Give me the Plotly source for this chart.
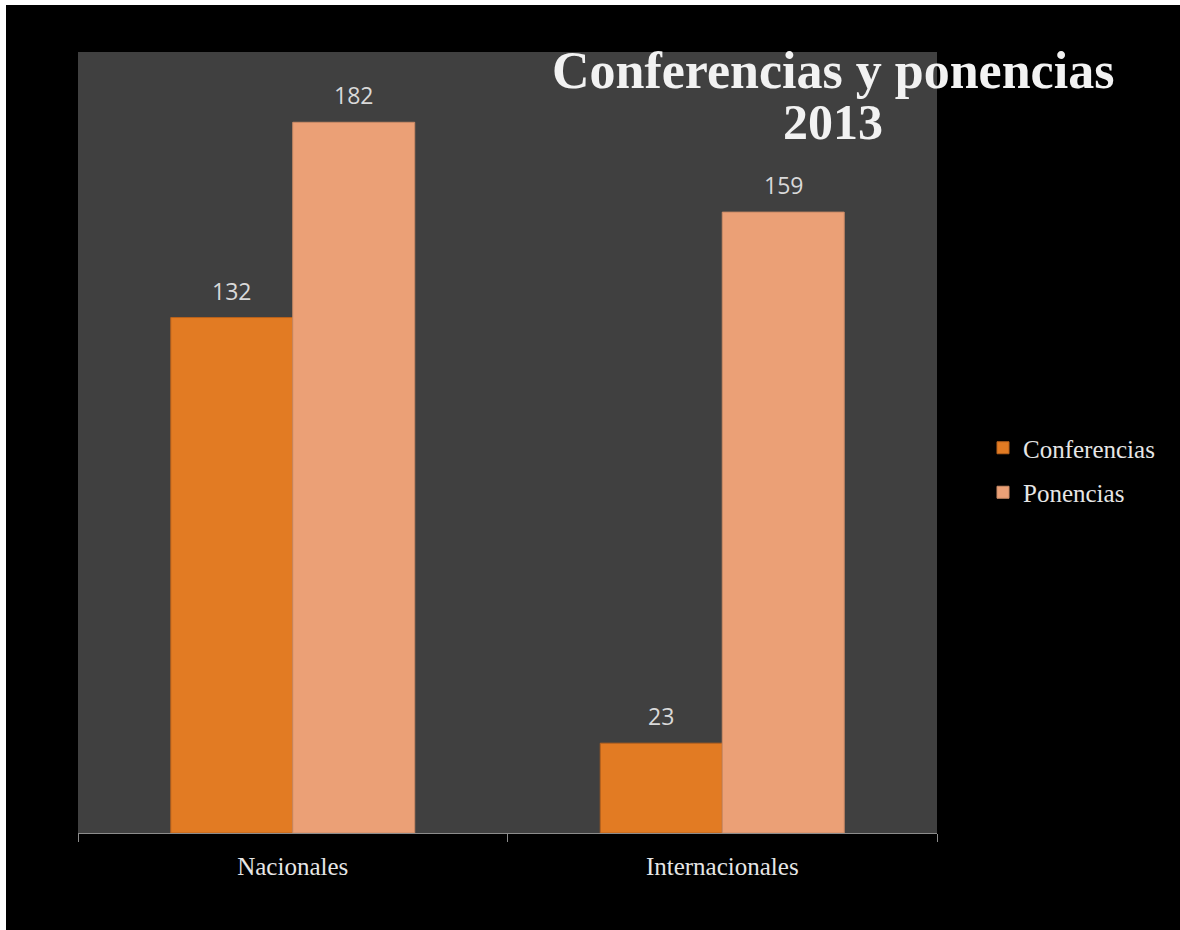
import plotly.graph_objects as go

categories = ["Nacionales", "Internacionales"]
conferencias = [132, 23]
ponencias = [182, 159]
series_names = ["Conferencias", "Ponencias"]
title_line1 = "Conferencias y ponencias"
title_line2 = "2013"

W, H = 1180, 930
ML, MT = 78, 52
PW, PH = 859, 781
MR, MB = W - ML - PW, H - MT - PH

def px_x(p):
    return (p - ML) / PW

def px_y(p):
    return (MT + PH - p) / PH

fig = go.Figure()
fig.add_trace(go.Bar(
    x=categories, y=conferencias, name=series_names[0], legendgroup="a",
    marker=dict(color="#E27B23", line=dict(color="#B8621C", width=1)),
    hoverinfo="skip"))
fig.add_trace(go.Bar(
    x=categories, y=ponencias, name=series_names[1], legendgroup="b",
    marker=dict(color="#EBA076", line=dict(color="#C98A66", width=1)),
    hoverinfo="skip"))

annotations = []
for vals, shift in ((conferencias, -61), (ponencias, 61)):
    for c, v in zip(categories, vals):
        annotations.append(dict(
            x=c, y=v, xref="x", yref="y", text=str(v), showarrow=False,
            xshift=shift, yshift=27, yanchor="middle",
            font=dict(family="Open Sans", size=23, color="#D9D9D9")))

annotations.append(dict(
    x=px_x(833), y=px_y(71), xref="paper", yref="paper", text="<b>%s</b>" % title_line1,
    showarrow=False, xanchor="center", yanchor="middle",
    font=dict(family="Liberation Serif", size=52, color="#F2F2F2")))
annotations.append(dict(
    x=px_x(833), y=px_y(122), xref="paper", yref="paper", text="<b>%s</b>" % title_line2,
    showarrow=False, xanchor="center", yanchor="middle",
    font=dict(family="Liberation Serif", size=50, color="#F2F2F2")))

# white page edge visible on the left and top of the reference
shapes = [
    dict(type="rect", xref="paper", yref="paper", layer="above",
         x0=px_x(-2), x1=px_x(6), y0=px_y(H + 2), y1=px_y(-2),
         fillcolor="#FFFFFF", line=dict(width=0)),
    dict(type="rect", xref="paper", yref="paper", layer="above",
         x0=px_x(-2), x1=px_x(W + 2), y0=px_y(5), y1=px_y(-2),
         fillcolor="#FFFFFF", line=dict(width=0)),
]

fig.update_layout(
    width=W, height=H,
    margin=dict(l=ML, r=MR, t=MT, b=MB, pad=0),
    paper_bgcolor="#000000",
    plot_bgcolor="#404040",
    barmode="group",
    bargap=0.432,
    bargroupgap=0,
    showlegend=True,
    legend=dict(
        x=px_x(983), y=px_y(470), xanchor="left", yanchor="middle",
        font=dict(family="Liberation Serif", size=25, color="#E6E6E6"),
        bgcolor="rgba(0,0,0,0)", tracegroupgap=9, traceorder="grouped",
        itemclick=False, itemdoubleclick=False),
    annotations=annotations,
    shapes=shapes,
    xaxis=dict(
        type="category", showgrid=False, zeroline=False,
        showline=True, linecolor="#8C8C8C", linewidth=1,
        ticks="outside", tickson="boundaries", ticklen=8, tickcolor="#8C8C8C",
        ticklabelstandoff=11,
        tickfont=dict(family="Liberation Serif", size=25, color="#E6E6E6"),
        fixedrange=True),
    yaxis=dict(
        range=[0, 200], showgrid=False, zeroline=False, showline=False,
        showticklabels=False, ticks="", fixedrange=True),
)

post = ("document.documentElement.style.overflow='hidden';"
        "document.body.style.margin='0';"
        "document.body.style.padding='0';"
        "document.body.style.overflow='hidden';"
        "document.body.style.background='#000000';")
fig.write_html("out.html", post_script=post, config={"displayModeBar": False})
